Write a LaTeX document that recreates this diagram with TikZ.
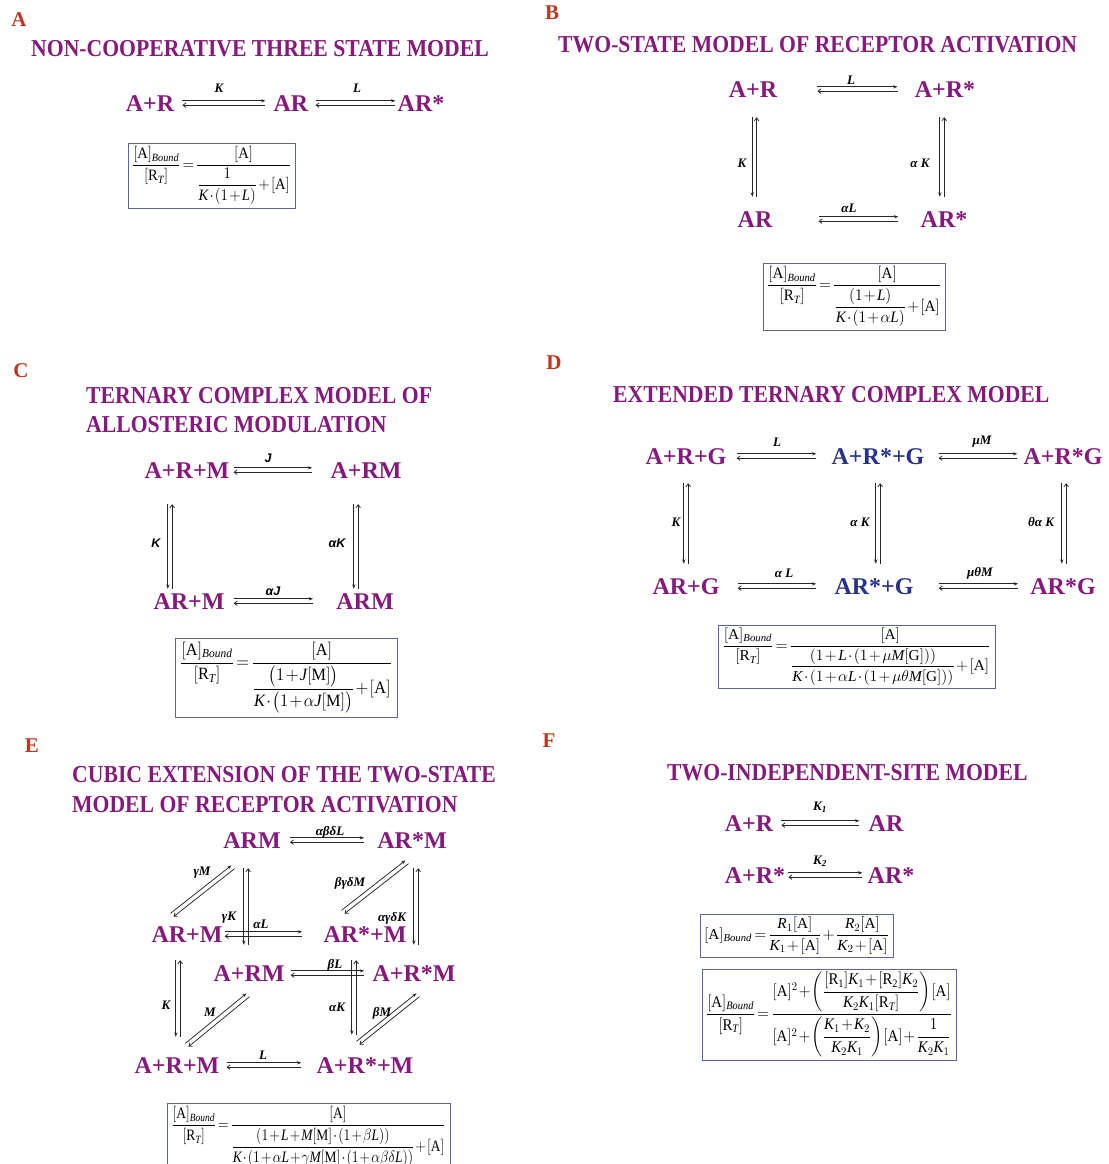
\documentclass[tikz,border=0pt]{standalone}
\usepackage{amsmath}
\usepackage{graphicx}
\usepackage{fontspec}
\setmainfont{Liberation Serif}
\newfontfamily\lsans{Liberation Sans}
\usetikzlibrary{arrows.meta,calc}
\definecolor{pc}{RGB}{135,25,125}
\definecolor{bc}{RGB}{40,50,140}
\definecolor{lc}{RGB}{190,55,30}
\definecolor{fc}{RGB}{90,100,170}
\definecolor{ac}{RGB}{40,40,40}
\newcommand\mi[1]{\mathit{#1}}
\newcommand\br[1]{[\mathrm{#1}]}
\newcommand\Ab{\br{A}_{\mi{Bound}}}
\newcommand\RT{\br{R_{\mi{T}}}}
\newcommand\ttxt[1]{\scalebox{1}[1.12]{#1}}
% formula fitted into a given width and total height (in pt)
\newcommand\fml[3]{\resizebox*{#1pt}{#2pt}{\fontsize{14}{16}\selectfont\thinmuskip=1mu\medmuskip=1.5mu\thickmuskip=2.5mu$\displaystyle #3$}}
\tikzset{
 sp/.style={font=\fontsize{24}{24}\selectfont\bfseries, text=pc, inner sep=0pt, text height=16pt, text depth=0pt},
 spb/.style={sp, text=bc},
 ttl/.style={font=\fontsize{21.7}{26}\selectfont\bfseries, text=pc, inner sep=0pt, anchor=west},
 lett/.style={font=\fontsize{21}{21}\selectfont\bfseries, text=lc, inner sep=0pt, text height=14pt, text depth=0pt},
 rl/.style={font=\fontsize{13}{13}\selectfont\bfseries\itshape, inner sep=0pt},
 rls/.style={font=\fontsize{12.5}{13}\selectfont\lsans\bfseries\itshape, inner sep=0pt},
 fbox/.style={draw=fc, line width=1pt, inner sep=0pt, fill=white},
 fw/.style={draw=ac, line width=0.75pt, -{Stealth[length=4.5pt,width=3.2pt]}},
 bw/.style={draw=ac, line width=0.75pt, {Straight Barb[length=3pt,width=4.5pt]}-},
}
% horizontal equilibrium: node a, node b, gap at a, gap at b
\newcommand\eqh[4]{%
 \draw[fw] ($(#1.east)+(#3,-2.2)$) -- ($(#2.west|-#1.east)+(-#4,-2.2)$);
 \draw[bw] ($(#1.east)+(#3,2.2)$) -- ($(#2.west|-#1.east)+(-#4,2.2)$);}
% vertical equilibrium: top node, bottom node, dx, gap top, gap bottom
\newcommand\eqv[5]{%
 \draw[fw] ($(#1.south)+(#3-2.2,#4)$) -- ($(#1.south|-#2.north)+(#3-2.2,-#5)$);
 \draw[bw] ($(#1.south)+(#3+2.2,#4)$) -- ($(#1.south|-#2.north)+(#3+2.2,-#5)$);}
% diagonal equilibrium: lower-left node, upper-right node, offsets
\newcommand\eqd[6]{%
 \draw[fw] ($(#1.center)+(#3-1.5,#4-1.7)$) -- ($(#2.center)+(#5-1.5,#6-1.7)$);
 \draw[bw] ($(#1.center)+(#3+1.5,#4+1.7)$) -- ($(#2.center)+(#5+1.5,#6+1.7)$);}
\begin{document}
\begin{tikzpicture}[x=1pt,y=-1pt]
\path[use as bounding box, fill=white] (0,0) rectangle (1108,1164);
\clip (0,0) rectangle (1108,1164);
% ---------------- A
\node[lett] (LA) at (19,20) {A};
\node[ttl] (TA) at (31,49) {\ttxt{NON-COOPERATIVE THREE STATE MODEL}};
\node[sp] (a1) at (150,103) {A+R};
\node[sp] (a2) at (291,103) {AR};
\node[sp] (a3) at (421,103) {AR*};
\eqh{a1}{a2}{8}{8}
\eqh{a2}{a3}{7}{2}
\node[rl] (ka1) at (219,88) {K};
\node[rl] (ka2) at (357,88) {L};
\node[fbox, minimum width=167, minimum height=65] (fa) at (211.5,175.5)
 {\fml{159}{58}{\dfrac{\Ab}{\RT}=\dfrac{\br{A}}{\dfrac{1}{\mi{K}\cdot(1+\mi{L})}+\br{A}}}};
% ---------------- B
\node[lett] (LB) at (552,13) {B};
\node[ttl] (TB) at (558,45) {\ttxt{TWO-STATE MODEL OF RECEPTOR ACTIVATION}};
\node[sp] (b1) at (753,89) {A+R};
\node[sp] (b2) at (945,89) {A+R*};
\node[sp] (b3) at (755,219) {AR};
\node[sp] (b4) at (944,219) {AR*};
\eqh{b1}{b2}{40}{17}
\eqh{b3}{b4}{46}{22}
\eqv{b1}{b3}{1.5}{20}{14}
\eqv{b2}{b4}{-3}{20}{14}
\node[rl] (kb1) at (851,80) {L};
\node[rl] (kb2) at (849,208) {αL};
\node[rl] (kb3) at (742,163) {K};
\node[rl] (kb4) at (920,163) {α K};
\node[fbox, minimum width=182, minimum height=67] (fb) at (854,296.5)
 {\fml{174}{60}{\dfrac{\Ab}{\RT}=\dfrac{\br{A}}{\dfrac{(1+\mi{L})}{\mi{K}\cdot(1+\alpha\mi{L})}+\br{A}}}};
% ---------------- C
\node[lett] (LC) at (21,370) {C};
\node[ttl] (TC1) at (86,396) {\ttxt{TERNARY COMPLEX MODEL OF}};
\node[ttl] (TC2) at (86,425) {\ttxt{ALLOSTERIC MODULATION}};
\node[sp] (c1) at (187,470) {A+R+M};
\node[sp] (c2) at (366,470) {A+RM};
\node[sp] (c3) at (189,601) {AR+M};
\node[sp] (c4) at (365,601) {ARM};
\eqh{c1}{c2}{4}{18}
\eqh{c3}{c4}{9}{23}
\eqv{c1}{c3}{-17}{26}{4}
\eqv{c2}{c4}{-10}{26}{4}
\node[rls] (kc1) at (268,458) {J};
\node[rls] (kc2) at (273,591) {αJ};
\node[rls] (kc3) at (156,543) {K};
\node[rls] (kc4) at (337,543) {αK};
\node[fbox, minimum width=222, minimum height=79] (fc) at (286,677.5)
 {\fml{212}{71}{\dfrac{\Ab}{\RT}=\dfrac{\br{A}}{\dfrac{\bigl(1+\mi{J}\br{M}\bigr)}{\mi{K}\cdot\bigl(1+\alpha\mi{J}\br{M}\bigr)}+\br{A}}}};
% ---------------- D
\node[lett] (LD) at (554,362) {D};
\node[ttl] (TD) at (613,395) {\ttxt{EXTENDED TERNARY COMPLEX MODEL}};
\node[sp] (d1) at (686,456) {A+R+G};
\node[spb] (d2) at (878,456) {A+R*+G};
\node[sp] (d3) at (1063,456) {A+R*G};
\node[sp] (d4) at (686,586) {AR+G};
\node[spb] (d5) at (874,586) {AR*+G};
\node[sp] (d6) at (1063,586) {AR*G};
\eqh{d1}{d2}{10}{15}
\eqh{d2}{d3}{14}{6}
\eqh{d4}{d5}{18}{18}
\eqh{d5}{d6}{25}{12}
\eqv{d1}{d4}{0}{19}{14}
\eqv{d2}{d5}{0}{19}{14}
\eqv{d3}{d6}{1}{19}{14}
\node[rl] (kd1) at (777,442) {L};
\node[rl] (kd2) at (982,442) {μM};
\node[rl] (kd3) at (784,573) {α L};
\node[rl] (kd4) at (980,573) {μθM};
\node[rl] (kd5) at (676,522) {K};
\node[rl] (kd6) at (860,522) {α K};
\node[rl] (kd7) at (1041,522) {θα K};
\node[fbox, minimum width=277, minimum height=63] (fd) at (856.5,656.5)
 {\fml{268}{57}{\dfrac{\Ab}{\RT}=\dfrac{\br{A}}{\dfrac{(1+\mi{L}\cdot(1+\mu\mi{M}\br{G}))}{\mi{K}\cdot(1+\alpha\mi{L}\cdot(1+\mu\theta\mi{M}\br{G}))}+\br{A}}}};
% ---------------- E
\node[lett] (LE) at (32,745) {E};
\node[ttl] (TE1) at (72,775) {\ttxt{CUBIC EXTENSION OF THE TWO-STATE}};
\node[ttl] (TE2) at (72,805) {\ttxt{MODEL OF RECEPTOR ACTIVATION}};
\node[sp] (e1) at (252,840) {ARM};
\node[sp] (e2) at (412,840) {AR*M};
\node[sp] (e3) at (187,934) {AR+M};
\node[sp] (e4) at (365,934) {AR*+M};
\node[sp] (e5) at (249,973) {A+RM};
\node[sp] (e6) at (414,973) {A+R*M};
\node[sp] (e7) at (177,1065) {A+R+M};
\node[sp] (e8) at (365,1065) {A+R*+M};
\eqh{e1}{e2}{9}{13}
\eqh{e3}{e4}{2}{21}
\eqh{e5}{e6}{6}{8}
\eqh{e7}{e8}{7}{15}
\eqv{e3}{e7}{-9}{18}{20}
\eqv{e1}{e5}{-6}{20}{20}
\eqv{e4}{e8}{-11}{18}{22}
\eqv{e2}{e6}{4}{20}{20}
\eqd{e3}{e1}{-15}{-19}{-19}{27}
\eqd{e4}{e2}{-22}{-22}{-5}{22}
\eqd{e7}{e5}{10}{-20}{-1}{22}
\eqd{e8}{e6}{-7}{-22}{4}{22}
\node[rl] (ke1) at (330,832) {αβδL};
\node[rl] (ke2) at (202,873) {γM};
\node[rl] (ke3) at (350,883) {βγδM};
\node[rl] (ke4) at (229,918) {γK};
\node[rl] (ke5) at (261,924) {αL};
\node[rl] (ke6) at (392,918) {αγδK};
\node[rl] (ke7) at (335,965) {βL};
\node[rl] (ke8) at (166,1005) {K};
\node[rl] (ke9) at (210,1012) {M};
\node[rl] (ke10) at (337,1007) {αK};
\node[rl] (ke11) at (382,1013) {βM};
\node[rl] (ke12) at (263,1055) {L};
\node[fbox, minimum width=283, minimum height=66, anchor=north] (fe) at (308.5,1103)
 {\fml{274}{60}{\dfrac{\Ab}{\RT}=\dfrac{\br{A}}{\dfrac{(1+\mi{L}+\mi{M}\br{M}\cdot(1+\beta\mi{L}))}{\mi{K}\cdot(1+\alpha\mi{L}+\gamma\mi{M}\br{M}\cdot(1+\alpha\beta\delta\mi{L}))}+\br{A}}}};
% ---------------- F
\node[lett] (LF) at (549,740) {F};
\node[ttl] (TF) at (667,773) {\ttxt{TWO-INDEPENDENT-SITE MODEL}};
\node[sp] (f1) at (749,823) {A+R};
\node[sp] (f2) at (886,823) {AR};
\node[sp] (f3) at (755,875) {A+R*};
\node[sp] (f4) at (891,875) {AR*};
\eqh{f1}{f2}{8}{9}
\eqh{f3}{f4}{3}{5}
\node[rl] (kf1) at (820,807) {K\textsubscript{1}};
\node[rl] (kf2) at (820,861) {K\textsubscript{2}};
\node[fbox, minimum width=193, minimum height=43] (ff1) at (796.5,935.5)
 {\fml{185}{37}{\br{A}_{\mi{Bound}}=\dfrac{\mi{R}_1\br{A}}{\mi{K}_1+\br{A}}+\dfrac{\mi{R}_2\br{A}}{\mi{K}_2+\br{A}}}};
\node[fbox, minimum width=254, minimum height=91] (ff2) at (829,1014.5)
 {\fml{246}{85}{\dfrac{\Ab}{\RT}=\dfrac{\br{A}^2+\left(\dfrac{\br{R_1}\mi{K}_1+\br{R_2}\mi{K}_2}{\mi{K}_2\mi{K}_1\RT}\right)\br{A}}{\br{A}^2+\left(\dfrac{\mi{K}_1+\mi{K}_2}{\mi{K}_2\mi{K}_1}\right)\br{A}+\dfrac{1}{\mi{K}_2\mi{K}_1}}}};
\end{tikzpicture}
\end{document}
